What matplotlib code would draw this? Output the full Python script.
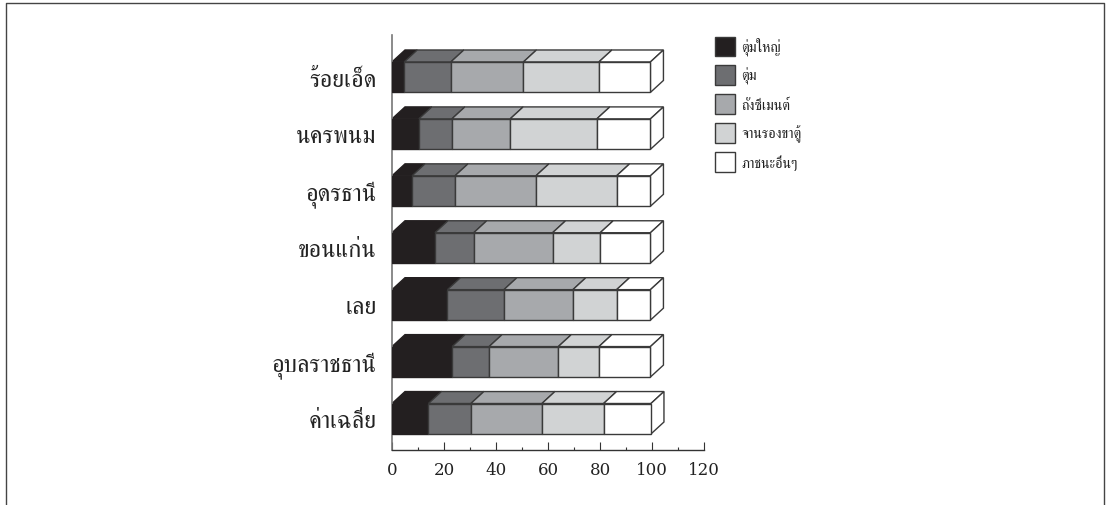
import matplotlib
matplotlib.use("Agg")
import matplotlib.pyplot as plt
from matplotlib.lines import Line2D
from matplotlib.patches import Patch, Polygon

label_family = ["FreeSerif", "Noto Serif Thai", "Loma", "DejaVu Sans"]

provinces = ["ร้อยเอ็ด", "นครพนม", "อุดรธานี", "ขอนแก่น", "เลย", "อุบลราชธานี", "ค่าเฉลี่ย"]
series_names = ["ตุ่มใหญ่", "ตุ่ม", "ถังซีเมนต์", "จานรองขาตู้", "ภาชนะอื่นๆ"]
large_jar = [4.7, 10.3, 7.7, 16.5, 21.3, 23.1, 14.0]
jar = [17.9, 12.7, 16.5, 14.9, 21.7, 14.2, 16.3]
cement_tank = [27.9, 22.4, 31.1, 30.3, 26.5, 26.6, 27.3]
cabinet_saucer = [29.0, 33.3, 31.0, 18.3, 16.8, 15.6, 23.7]
other_containers = [19.8, 20.6, 13.0, 19.3, 13.0, 19.8, 18.2]
series_values = [large_jar, jar, cement_tank, cabinet_saucer, other_containers]
colors = ["#231f20", "#6d6e71", "#a7a9ac", "#d1d3d4", "#ffffff"]
edge = "#3a3a3a"

W, H = 1106, 506
fig = plt.figure(figsize=(W / 100, H / 100), dpi=100, facecolor="white")
ax = fig.add_axes([392 / W, 1 - 450.7 / H, (704.3 - 392) / W, (450 - 35) / H])
ax.set_xlim(0, 120)
ax.set_ylim(6.544, -0.746)

bar_height = 0.535
depth_x = 5.0
depth_y = 0.21

# Front faces come from barh; top and end faces are extruded back from them
lefts = [0.0] * len(provinces)
for name, values, color in zip(series_names, series_values, colors):
    ax.barh(range(len(provinces)), values, left=lefts, height=bar_height,
            color=color, edgecolor=edge if color != colors[0] else color,
            linewidth=1.0, zorder=3)
    for i, (start, value) in enumerate(zip(lefts, values)):
        top = i - bar_height / 2
        ax.add_patch(Polygon(
            [(start, top), (start + value, top),
             (start + value + depth_x, top - depth_y), (start + depth_x, top - depth_y)],
            closed=True, facecolor=color,
            edgecolor=edge if color != colors[0] else color, linewidth=1.0, zorder=2))
    lefts = [a + b for a, b in zip(lefts, values)]

for i, end in enumerate(lefts):
    top = i - bar_height / 2
    bottom = i + bar_height / 2
    ax.add_patch(Polygon(
        [(end, top), (end + depth_x, top - depth_y),
         (end + depth_x, bottom - depth_y), (end, bottom)],
        closed=True, facecolor="white", edgecolor=edge, linewidth=1.0, zorder=2))

for side in ("top", "right"):
    ax.spines[side].set_visible(False)
ax.spines["left"].set_color("#777777")
ax.spines["left"].set_linewidth(1.2)
ax.spines["bottom"].set_color("#333333")
ax.spines["bottom"].set_linewidth(1.0)

ax.set_xticks(range(0, 121, 20))
ax.set_xticks(range(10, 120, 20), minor=True)
ax.tick_params(axis="x", which="major", direction="in", length=5.5, width=0.8,
               color="#333333", pad=8, labelsize=12, labelcolor="#222222")
ax.tick_params(axis="x", which="minor", direction="in", length=2.5, width=0.8, color="#333333")
for label in ax.get_xticklabels():
    label.set_family("DejaVu Serif")

ax.set_yticks(range(len(provinces)), provinces, family=label_family, fontsize=17.5, color="#222222")
ax.tick_params(axis="y", length=0, pad=11)

handles = [Patch(facecolor=c, edgecolor=edge, linewidth=1.0) for c in colors]
fig.legend(handles, series_names, prop={"family": label_family, "size": 10.3},
           loc="upper left", bbox_to_anchor=(715 / W, 1 - 37.5 / H), borderaxespad=0,
           borderpad=0, frameon=False, handlelength=1.4, handleheight=1.75,
           handletextpad=0.42, labelspacing=0.64, labelcolor="#222222")

# Thin page frame, open along the bottom edge
frame_x = [6 / W, 6 / W, 1104 / W, 1104 / W]
frame_y = [0, 1 - 4 / H, 1 - 4 / H, 0]
fig.add_artist(Line2D(frame_x, frame_y, color="#444444", linewidth=1.0))

fig.savefig("out.png", dpi=100)
